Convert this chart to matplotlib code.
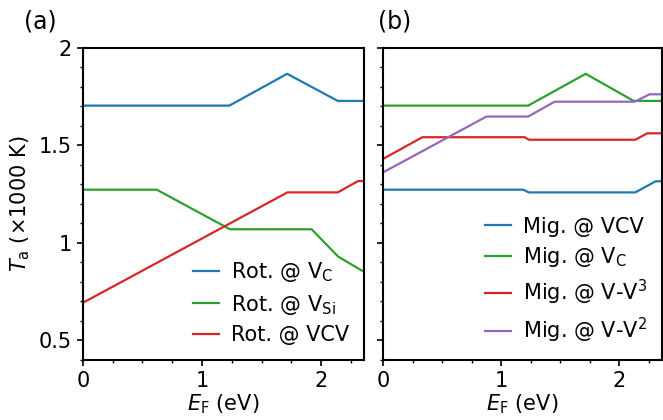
import matplotlib
matplotlib.use("Agg")
import matplotlib.pyplot as plt
from matplotlib.ticker import MultipleLocator, FuncFormatter

plt.rcParams['font.size'] = 15
plt.rcParams['mathtext.default'] = 'regular'

# (a) rotation barriers, T_a in 1000 K vs Fermi level
rot_vc_x = [0, 1.23, 1.715, 2.14, 2.36]
rot_vc_y = [1.704, 1.704, 1.867, 1.728, 1.728]
rot_vsi_x = [0, 0.62, 1.235, 1.92, 2.145, 2.36]
rot_vsi_y = [1.273, 1.273, 1.070, 1.070, 0.929, 0.852]
rot_vcv_x = [0, 1.717, 2.14, 2.31, 2.36]
rot_vcv_y = [0.693, 1.259, 1.259, 1.317, 1.317]

# (b) migration barriers
mig_vcv_x = [0, 1.185, 1.233, 2.134, 2.306, 2.36]
mig_vcv_y = [1.273, 1.273, 1.259, 1.259, 1.316, 1.316]
mig_vc_x = [0, 1.227, 1.714, 2.12, 2.36]
mig_vc_y = [1.704, 1.704, 1.867, 1.728, 1.728]
mig_vv3_x = [0, 0.331, 1.196, 1.233, 2.134, 2.235, 2.36]
mig_vv3_y = [1.431, 1.542, 1.542, 1.529, 1.529, 1.562, 1.562]
mig_vv2_x = [0, 0.874, 1.227, 1.451, 2.13, 2.255, 2.36]
mig_vv2_y = [1.362, 1.648, 1.648, 1.724, 1.724, 1.762, 1.762]

fig = plt.figure(figsize=(6.63, 4.2), dpi=100)
ax1 = fig.add_axes([0.125, 0.143, 0.424, 0.743])
ax2 = fig.add_axes([0.578, 0.143, 0.4205, 0.743])

ax1.plot(rot_vc_x, rot_vc_y, color='tab:blue', lw=1.6, label='Rot. @ V$_\\mathrm{C}$')
ax1.plot(rot_vsi_x, rot_vsi_y, color='tab:green', lw=1.6, label='Rot. @ V$_\\mathrm{Si}$')
ax1.plot(rot_vcv_x, rot_vcv_y, color='tab:red', lw=1.6, label='Rot. @ VCV')

ax2.plot(mig_vcv_x, mig_vcv_y, color='tab:blue', lw=1.6, label='Mig. @ VCV')
ax2.plot(mig_vc_x, mig_vc_y, color='tab:green', lw=1.6, label='Mig. @ V$_\\mathrm{C}$')
ax2.plot(mig_vv3_x, mig_vv3_y, color='tab:red', lw=1.6, label='Mig. @ V-V$^3$')
ax2.plot(mig_vv2_x, mig_vv2_y, color='tab:purple', lw=1.6, label='Mig. @ V-V$^2$')

for ax in (ax1, ax2):
    ax.set_xlim(0, 2.36)
    ax.set_ylim(0.4, 2.0)
    ax.xaxis.set_major_locator(MultipleLocator(1))
    ax.xaxis.set_minor_locator(MultipleLocator(0.25))
    ax.yaxis.set_major_locator(MultipleLocator(0.5))
    ax.yaxis.set_minor_locator(MultipleLocator(0.1))
    ax.xaxis.set_major_formatter(FuncFormatter(lambda v, p: '%g' % v))
    ax.yaxis.set_major_formatter(FuncFormatter(lambda v, p: '%g' % v))
    ax.tick_params(which='major', length=4.5, width=1.2)
    ax.tick_params(which='minor', length=2.2, width=1.0)
    for s in ax.spines.values():
        s.set_linewidth(1.5)
    ax.set_xlabel('$\\mathit{E}_\\mathrm{F}$ (eV)', labelpad=1)
    ax.legend(loc='lower right', frameon=False, handlelength=1.25,
              handletextpad=0.6, labelspacing=0.42, borderaxespad=0.3)

ax2.tick_params(axis='y', labelleft=False)
ax1.set_ylabel('$\\mathit{T}_\\mathrm{a}$ (×1000 K)', labelpad=5)

fig.text(0.036, 0.948, '(a)', fontsize=17, va='center')
fig.text(0.570, 0.948, '(b)', fontsize=17, va='center')

fig.savefig('out.png', dpi=100)
